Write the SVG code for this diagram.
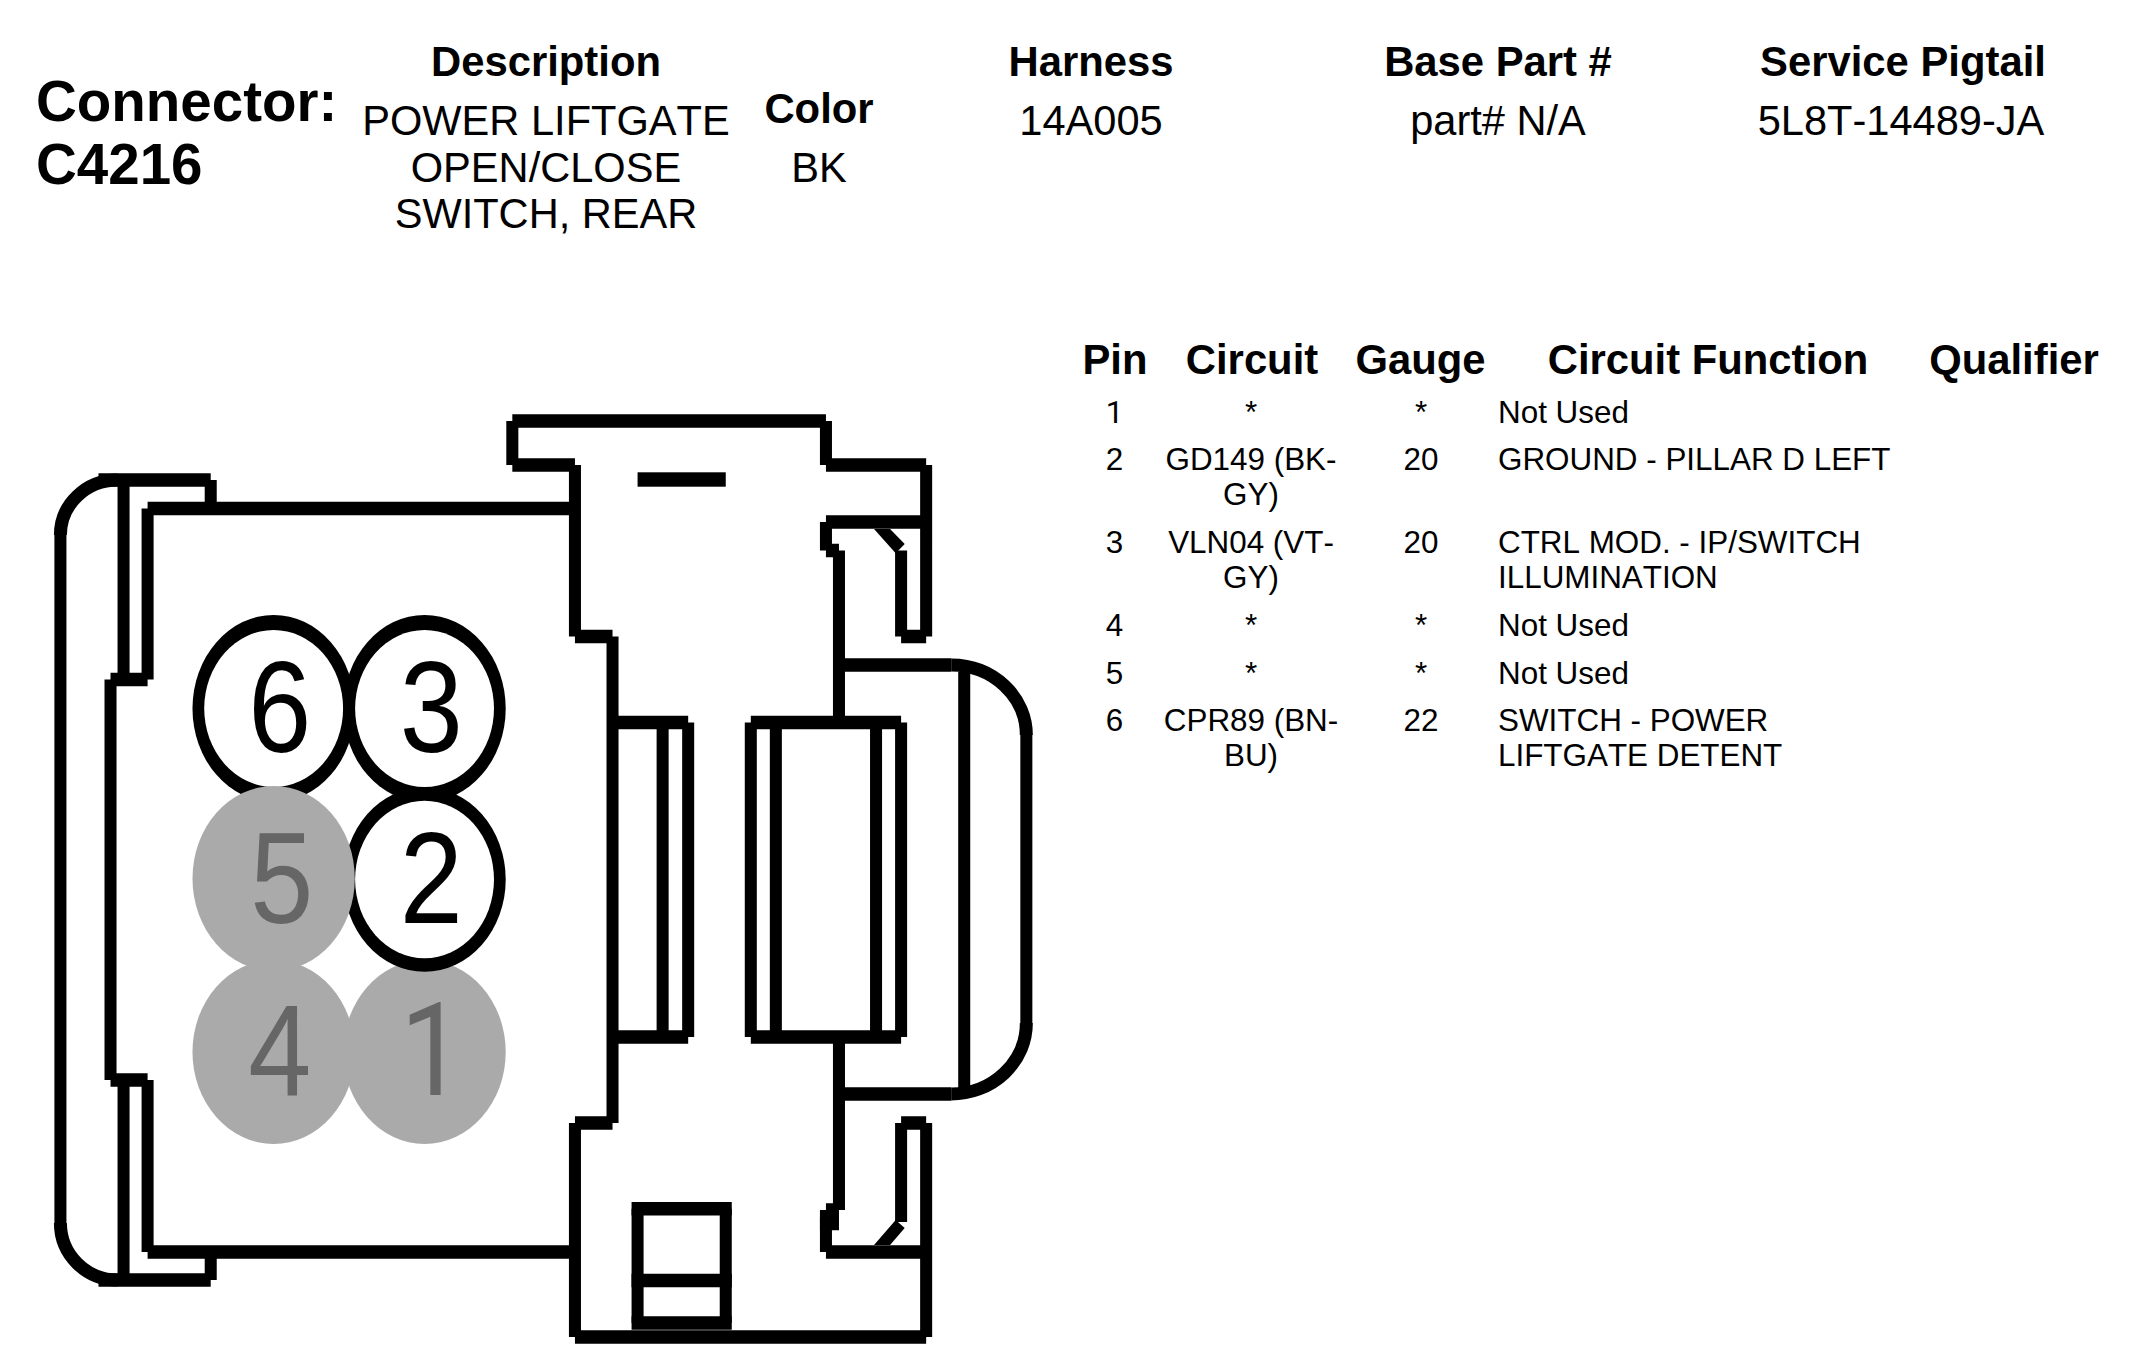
<svg xmlns="http://www.w3.org/2000/svg" width="2136" height="1368" viewBox="0 0 2136 1368">
<style>
text{font-family:"Liberation Sans",Arial,sans-serif;fill:#000;font-kerning:none}
.b{font-weight:bold;font-size:41.800px;text-anchor:middle}
.t{font-size:41.600px;text-anchor:middle}
.c{font-weight:bold;font-size:56.500px}
.r{font-size:31.400px;text-anchor:middle}
.l{font-size:31.400px}
.pn{font-size:130px;text-anchor:middle}
.g{fill:#666}
.n1{font-family:Roboto,"Liberation Sans",sans-serif}
.h{fill:none;stroke:#000;stroke-width:13.500}
.v{fill:none;stroke:#000;stroke-width:12}
.a{fill:none;stroke:#000;stroke-width:13}
.ob{fill:#000}.in{fill:#fff}.un{fill:#aaa}
</style>
<rect width="2136" height="1368" fill="#fff"/>
<g id="header">
<text class="c" x="36" y="121">Connector:</text>
<text class="c" x="36" y="184">C4216</text>
<text class="b" x="546" y="76">Description</text>
<text class="t" x="546" y="135">POWER LIFTGATE</text>
<text class="t" x="546" y="182">OPEN/CLOSE</text>
<text class="t" x="546" y="228">SWITCH, REAR</text>
<text class="b" x="819" y="123">Color</text>
<text class="t" x="819" y="182">BK</text>
<text class="b" x="1091" y="76">Harness</text>
<text class="t" x="1091" y="135">14A005</text>
<text class="b" x="1498" y="76">Base Part #</text>
<text class="t" x="1498" y="135">part# N/A</text>
<text class="b" x="1903" y="76">Service Pigtail</text>
<text class="t" x="1901" y="135">5L8T-14489-JA</text>
</g>
<g id="drawing" transform="translate(-.7 0) scale(1.002 1)">
<g id="connector-body">
<path class="h" d="M99 480H211M148 508.500H574.500M111 679.500H148M111 1080H148M148 1252H574.500M99 1280H211M512 421H825M512 465H574.500M574.500 636.500H612M574.500 1123H612M574.500 1337H925M825 465H925M825 522H925M825 550.500H838M838 665H950M838 1094H950M612 722.500H687.500M612 1037H687.500M750 722.500H900M750 1037H900M900 636.500H925M900 1123H925M825 1210H838M819 1223.500H838M825 1252H925M631 1208.700H731M631 1280.500H731M631 1323H731"/>
<path class="v" d="M61 535V1223M211 480V508.500M211 1252V1280M124 480V679.500M124 1080V1280M148 508.500V679.500M148 1080V1252M111 679.500V1080M512 421V465M574.500 465V636.500M574.500 1123V1337M612 636.500V1123M825 421V465M825 522V550.500M825 1210V1252M925 465V636.500M925 1123V1337M838 550.500V722.500M838 1037V1210M900 550.500V636.500M900 722.500V1037M900 1123V1222M687.500 722.500V1037M662 722.500V1037M750 722.500V1037M775 722.500V1037M875 722.500V1037M963 672V1090M1025 735V1023M637 1208.700V1323M725 1208.700V1323"/>
<path class="a" d="M61 535A57 55 0 0 1 118 480M61 1223A57 57 0 0 0 118 1280M950 665A75 70 0 0 1 1025 735M1025 1023A75 71 0 0 1 950 1094"/>
<polygon points="873,529 889,529 903.600,544 894.600,553.300"/>
<polygon points="873,1245 889,1245 903.600,1228 894.600,1220"/>
<rect x="637" y="472.300" width="88" height="14.400"/>
</g>
<g id="pin-1"><ellipse class="un" cx="424.400" cy="1052" rx="81" ry="92"/><text class="pn g n1" transform="translate(432 1095) scale(.87 1)">1</text></g>
<g id="pin-6"><ellipse class="ob" cx="273.800" cy="708.500" rx="81" ry="93.500"/><ellipse class="in" cx="273.800" cy="708.500" rx="69.300" ry="78.500"/><text class="pn" transform="translate(280 751.500) scale(.87 1)">6</text></g>
<g id="pin-3"><ellipse class="ob" cx="424.400" cy="708.500" rx="81" ry="93.500"/><ellipse class="in" cx="424.400" cy="708.500" rx="69.300" ry="78.500"/><text class="pn" transform="translate(431 751.500) scale(.87 1)">3</text></g>
<g id="pin-4"><ellipse class="un" cx="273.800" cy="1052" rx="81" ry="92"/><text class="pn g" transform="translate(280 1095) scale(.87 1)">4</text></g>
<g id="pin-2"><ellipse class="ob" cx="424.400" cy="879.500" rx="81" ry="92.200"/><ellipse class="in" cx="424.400" cy="879.500" rx="69.300" ry="78.800"/><text class="pn" transform="translate(431 923) scale(.87 1)">2</text></g>
<g id="pin-5"><ellipse class="un" cx="273.800" cy="878.500" rx="81" ry="92.500"/><text class="pn g" transform="translate(282 923) scale(.87 1)">5</text></g>
</g>
<g id="pin-table">
<text class="b" x="1115" y="374">Pin</text>
<text class="b" x="1252" y="374">Circuit</text>
<text class="b" x="1420.500" y="374">Gauge</text>
<text class="b" x="1708" y="374">Circuit Function</text>
<text class="b" x="2014" y="374">Qualifier</text>
<text class="r n1" x="1114.500" y="423">1</text><text class="r" x="1251" y="423">*</text><text class="r" x="1421" y="423">*</text><text class="l" x="1498" y="423">Not Used</text>
<text class="r" x="1114.500" y="470">2</text><text class="r" x="1251" y="470">GD149 (BK-</text><text class="r" x="1251" y="505">GY)</text><text class="r" x="1421" y="470">20</text><text class="l" x="1498" y="470">GROUND - PILLAR D LEFT</text>
<text class="r" x="1114.500" y="553">3</text><text class="r" x="1251" y="553">VLN04 (VT-</text><text class="r" x="1251" y="588">GY)</text><text class="r" x="1421" y="553">20</text><text class="l" x="1498" y="553">CTRL MOD. - IP/SWITCH</text><text class="l" x="1498" y="588">ILLUMINATION</text>
<text class="r" x="1114.500" y="636">4</text><text class="r" x="1251" y="636">*</text><text class="r" x="1421" y="636">*</text><text class="l" x="1498" y="636">Not Used</text>
<text class="r" x="1114.500" y="684">5</text><text class="r" x="1251" y="684">*</text><text class="r" x="1421" y="684">*</text><text class="l" x="1498" y="684">Not Used</text>
<text class="r" x="1114.500" y="731">6</text><text class="r" x="1251" y="731">CPR89 (BN-</text><text class="r" x="1251" y="766">BU)</text><text class="r" x="1421" y="731">22</text><text class="l" x="1498" y="731">SWITCH - POWER</text><text class="l" x="1498" y="766">LIFTGATE DETENT</text>
</g>
</svg>
